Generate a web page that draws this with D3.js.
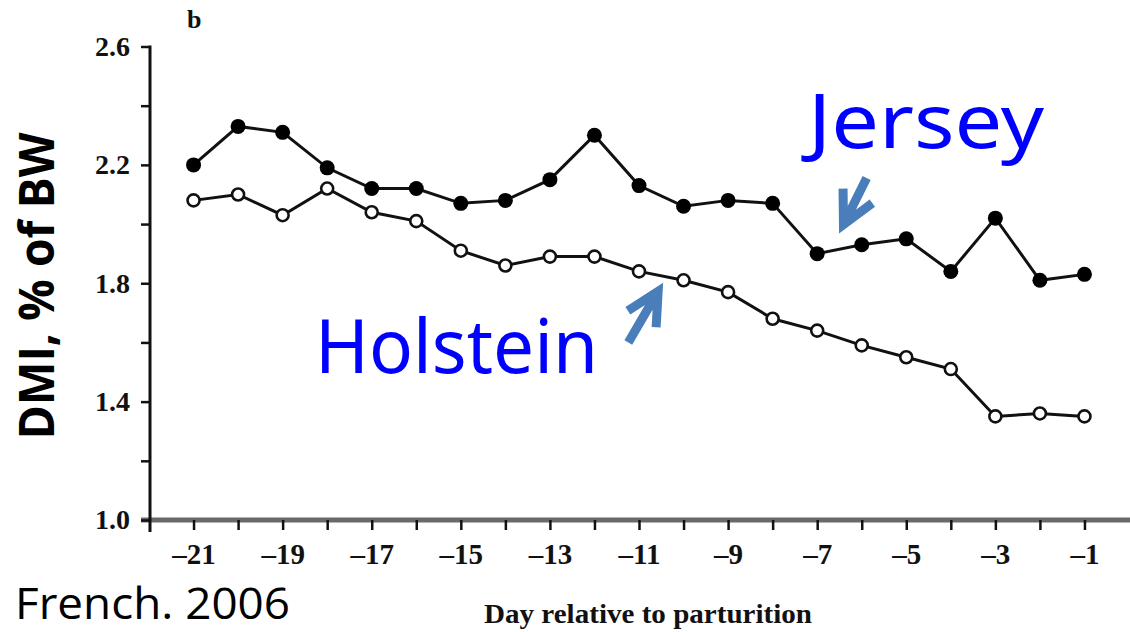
<!DOCTYPE html>
<html>
<head>
<meta charset="utf-8">
<title>DMI Jersey vs Holstein</title>
<script src="https://d3js.org/d3.v7.min.js"></script>
<style>
  body { margin: 0; background: #fff; }
  .tick text { font-family: "Liberation Serif", "Times New Roman", serif; font-weight: bold; }
</style>
</head>
<body>
<script>
// day relative to parturition
var days = [-21, -20, -19, -18, -17, -16, -15, -14, -13, -12, -11,
            -10, -9, -8, -7, -6, -5, -4, -3, -2, -1];
// DMI, % of BW
var jersey = [2.20, 2.33, 2.31, 2.19, 2.12, 2.12, 2.07, 2.08, 2.15, 2.30, 2.13,
              2.06, 2.08, 2.07, 1.90, 1.93, 1.95, 1.84, 2.02, 1.81, 1.83];
var holstein = [2.08, 2.10, 2.03, 2.12, 2.04, 2.01, 1.91, 1.86, 1.89, 1.89, 1.84,
                1.81, 1.77, 1.68, 1.64, 1.59, 1.55, 1.51, 1.35, 1.36, 1.35];
var yMajor = [1.0, 1.4, 1.8, 2.2, 2.6];
var yMinor = [1.2, 1.6, 2.0, 2.4];
var xLabelled = [-21, -19, -17, -15, -13, -11, -9, -7, -5, -3, -1];

var W = 1130, H = 632;
var svg = d3.select("body").append("svg")
    .attr("width", W).attr("height", H);

var x = d3.scaleLinear().domain([-22, 0]).range([149, 1129]);
var y = d3.scaleLinear().domain([1.0, 2.6]).range([520, 46.5]);

// x axis (grey baseline, small black ticks)
var xAxis = d3.axisBottom(x)
    .tickValues(days)
    .tickSize(10)
    .tickSizeOuter(0)
    .tickPadding(13)
    .tickFormat(function(d){ return xLabelled.indexOf(d) >= 0 ? "\u2013" + Math.abs(d) : ""; });
var gx = svg.append("g").attr("transform", "translate(0,520)").call(xAxis);
gx.select(".domain").remove();
gx.selectAll(".tick line").attr("stroke", "#111").attr("stroke-width", 2.5);
gx.selectAll(".tick text").attr("font-size", 29).attr("fill", "#111");
gx.insert("line", ":first-child")
    .attr("x1", 141).attr("x2", W).attr("y1", 0).attr("y2", 0)
    .attr("stroke", "#6a6a6a").attr("stroke-width", 5);

// y axis
var yAxis = d3.axisLeft(y)
    .tickValues(yMajor.concat(yMinor))
    .tickSize(9)
    .tickSizeOuter(0)
    .tickPadding(11)
    .tickFormat(function(d){ return yMajor.indexOf(d) >= 0 ? d.toFixed(1) : ""; });
var gy = svg.append("g").attr("transform", "translate(150,0)").call(yAxis);
gy.select(".domain").remove();
gy.selectAll(".tick line").attr("stroke", "#111").attr("stroke-width", 2.5);
gy.selectAll(".tick text").attr("font-size", 28).attr("fill", "#111");
gy.append("line")
    .attr("x1", 0).attr("x2", 0).attr("y1", y(2.6) - 1).attr("y2", 532)
    .attr("stroke", "#111").attr("stroke-width", 3);

// lines
var line = d3.line()
    .x(function(d, i){ return x(days[i]); })
    .y(function(d){ return y(d); });

svg.append("path").datum(holstein)
    .attr("d", line).attr("fill", "none")
    .attr("stroke", "#111").attr("stroke-width", 3);
svg.append("path").datum(jersey)
    .attr("d", line).attr("fill", "none")
    .attr("stroke", "#111").attr("stroke-width", 3);

// markers
svg.selectAll("circle.hol").data(holstein).enter().append("circle")
    .attr("class", "hol")
    .attr("cx", function(d, i){ return x(days[i]); })
    .attr("cy", function(d){ return y(d); })
    .attr("r", 6)
    .attr("fill", "#fff").attr("stroke", "#111").attr("stroke-width", 2.6);
svg.selectAll("circle.jer").data(jersey).enter().append("circle")
    .attr("class", "jer")
    .attr("cx", function(d, i){ return x(days[i]); })
    .attr("cy", function(d){ return y(d); })
    .attr("r", 7.5)
    .attr("fill", "#000");

// annotation arrows, tip and tail given in data units
function arrow(tail, tip) {
    var tx = x(tip[0]), ty = y(tip[1]);
    var sx = x(tail[0]), sy = y(tail[1]);
    var a = Math.atan2(sy - ty, sx - tx);
    var L = 36, spread = 27 * Math.PI / 180;
    var w1 = [tx + L * Math.cos(a + spread), ty + L * Math.sin(a + spread)];
    var w2 = [tx + L * Math.cos(a - spread), ty + L * Math.sin(a - spread)];
    svg.append("path")
        .attr("d", "M" + sx + "," + sy + "L" + tx + "," + ty +
                   "M" + w1[0] + "," + w1[1] + "L" + tx + "," + ty + "L" + w2[0] + "," + w2[1])
        .attr("fill", "none").attr("stroke", "#4a7ebb")
        .attr("stroke-width", 9).attr("stroke-linejoin", "miter");
}
arrow([-5.89, 2.156], [-6.41, 1.998]);
arrow([-11.24, 1.60], [-10.57, 1.773]);

// series labels
svg.append("text").text("Jersey")
    .attr("x", 808).attr("y", 148)
    .attr("textLength", 236).attr("lengthAdjust", "spacingAndGlyphs")
    .attr("font-family", "'Comic Sans MS', 'Noto Sans', sans-serif")
    .attr("font-size", 74).attr("fill", "#0000ff");
svg.append("text").text("Holstein")
    .attr("x", 315).attr("y", 373)
    .attr("textLength", 283).attr("lengthAdjust", "spacingAndGlyphs")
    .attr("font-family", "'Comic Sans MS', 'Noto Sans', sans-serif")
    .attr("font-size", 74).attr("fill", "#0000ff");

// panel letter
svg.append("text").text("b")
    .attr("x", 187).attr("y", 28)
    .attr("font-family", "'Liberation Serif', 'Times New Roman', serif")
    .attr("font-weight", "bold").attr("font-size", 26).attr("fill", "#111");

// axis titles
svg.append("text").text("Day relative to parturition")
    .attr("x", 648).attr("y", 623).attr("text-anchor", "middle")
    .attr("textLength", 328).attr("lengthAdjust", "spacingAndGlyphs")
    .attr("font-family", "'Liberation Serif', 'Times New Roman', serif")
    .attr("font-weight", "bold").attr("font-size", 28).attr("fill", "#111");

svg.append("text").text("DMI, % of BW")
    .attr("transform", "translate(53.5,286) rotate(-90)")
    .attr("text-anchor", "middle")
    .attr("textLength", 307).attr("lengthAdjust", "spacingAndGlyphs")
    .attr("font-family", "'Open Sans', 'Noto Sans', sans-serif")
    .attr("font-weight", "bold").attr("font-size", 48).attr("fill", "#000");

// source
svg.append("text").text("French. 2006")
    .attr("x", 15).attr("y", 619)
    .attr("textLength", 275).attr("lengthAdjust", "spacingAndGlyphs")
    .attr("font-family", "'Open Sans', 'Noto Sans', sans-serif")
    .attr("font-size", 44).attr("fill", "#000");
</script>
</body>
</html>
